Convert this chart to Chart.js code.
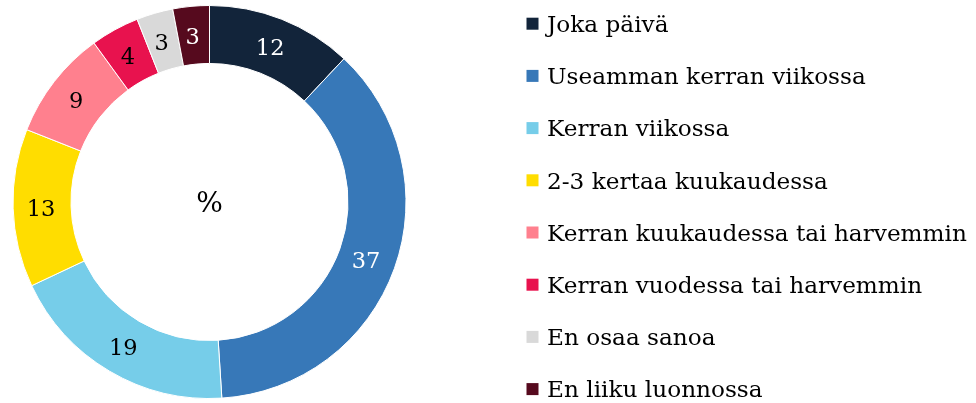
<!DOCTYPE html>
<html>
<head>
<meta charset="utf-8">
<script src="https://cdn.jsdelivr.net/npm/chart.js@4/dist/chart.umd.min.js"></script>
<style>
  html, body { margin: 0; padding: 0; background: #ffffff; }
  canvas { display: block; }
</style>
</head>
<body>
<canvas id="c" width="976" height="403"></canvas>
<script>
const categories = [
  "Joka päivä",
  "Useamman kerran viikossa",
  "Kerran viikossa",
  "2-3 kertaa kuukaudessa",
  "Kerran kuukaudessa tai harvemmin",
  "Kerran vuodessa tai harvemmin",
  "En osaa sanoa",
  "En liiku luonnossa"
];
const values = [12, 37, 19, 13, 9, 4, 3, 3];
const colors = ["#12243a", "#3778b8", "#76cde9", "#ffdd00", "#ff808e", "#e8124e", "#d9d9d9", "#560a1e"];
const labelColors = ["#ffffff", "#ffffff", "#000000", "#000000", "#000000", "#000000", "#000000", "#ffffff"];
const centerText = "%";

const FONT = "'DejaVu Serif', 'Liberation Serif', serif";

const sliceLabels = {
  id: 'sliceLabels',
  afterDatasetsDraw(chart) {
    const ctx = chart.ctx;
    const meta = chart.getDatasetMeta(0);
    ctx.save();
    ctx.font = "22.5px " + FONT;
    ctx.textAlign = "center";
    ctx.textBaseline = "middle";
    meta.data.forEach((arc, i) => {
      const p = arc.getProps(['x', 'y', 'startAngle', 'endAngle', 'innerRadius', 'outerRadius'], true);
      const mid = (p.startAngle + p.endAngle) / 2;
      const r = (p.innerRadius + p.outerRadius) / 2;
      ctx.fillStyle = labelColors[i];
      ctx.fillText(String(chart.data.datasets[0].data[i]), p.x + Math.cos(mid) * r - 1, p.y + Math.sin(mid) * r + 3);
    });
    // centre text
    const a = meta.data[0];
    ctx.fillStyle = "#000000";
    ctx.font = "28px " + FONT;
    ctx.fillText(centerText, a.x, a.y + 3);
    ctx.restore();
  }
};

const sideLegend = {
  id: 'sideLegend',
  afterDraw(chart) {
    const ctx = chart.ctx;
    const labels = chart.data.labels;
    const bg = chart.data.datasets[0].backgroundColor;
    ctx.save();
    ctx.font = "23.2px " + FONT;
    ctx.textAlign = "left";
    ctx.textBaseline = "alphabetic";
    const x0 = 526.5, box = 12, textX = 547, top0 = 17.7, step = 52.2;
    labels.forEach((lab, i) => {
      const top = top0 + step * i;
      ctx.fillStyle = bg[i];
      ctx.fillRect(x0, top, box, box);
      ctx.fillStyle = "#000000";
      ctx.fillText(lab, textX, top + box / 2 + 8.3);
    });
    ctx.restore();
  }
};

new Chart(document.getElementById('c'), {
  type: 'doughnut',
  data: {
    labels: categories,
    datasets: [{
      data: values,
      backgroundColor: colors,
      borderColor: '#ffffff',
      borderWidth: 1
    }]
  },
  options: {
    responsive: false,
    devicePixelRatio: 1,
    animation: false,
    cutout: '70.5%',
    layout: { padding: { left: 12, right: 569, top: 5, bottom: 4 } },
    plugins: {
      legend: { display: false },
      tooltip: { enabled: false }
    }
  },
  plugins: [sliceLabels, sideLegend]
});
</script>
</body>
</html>
